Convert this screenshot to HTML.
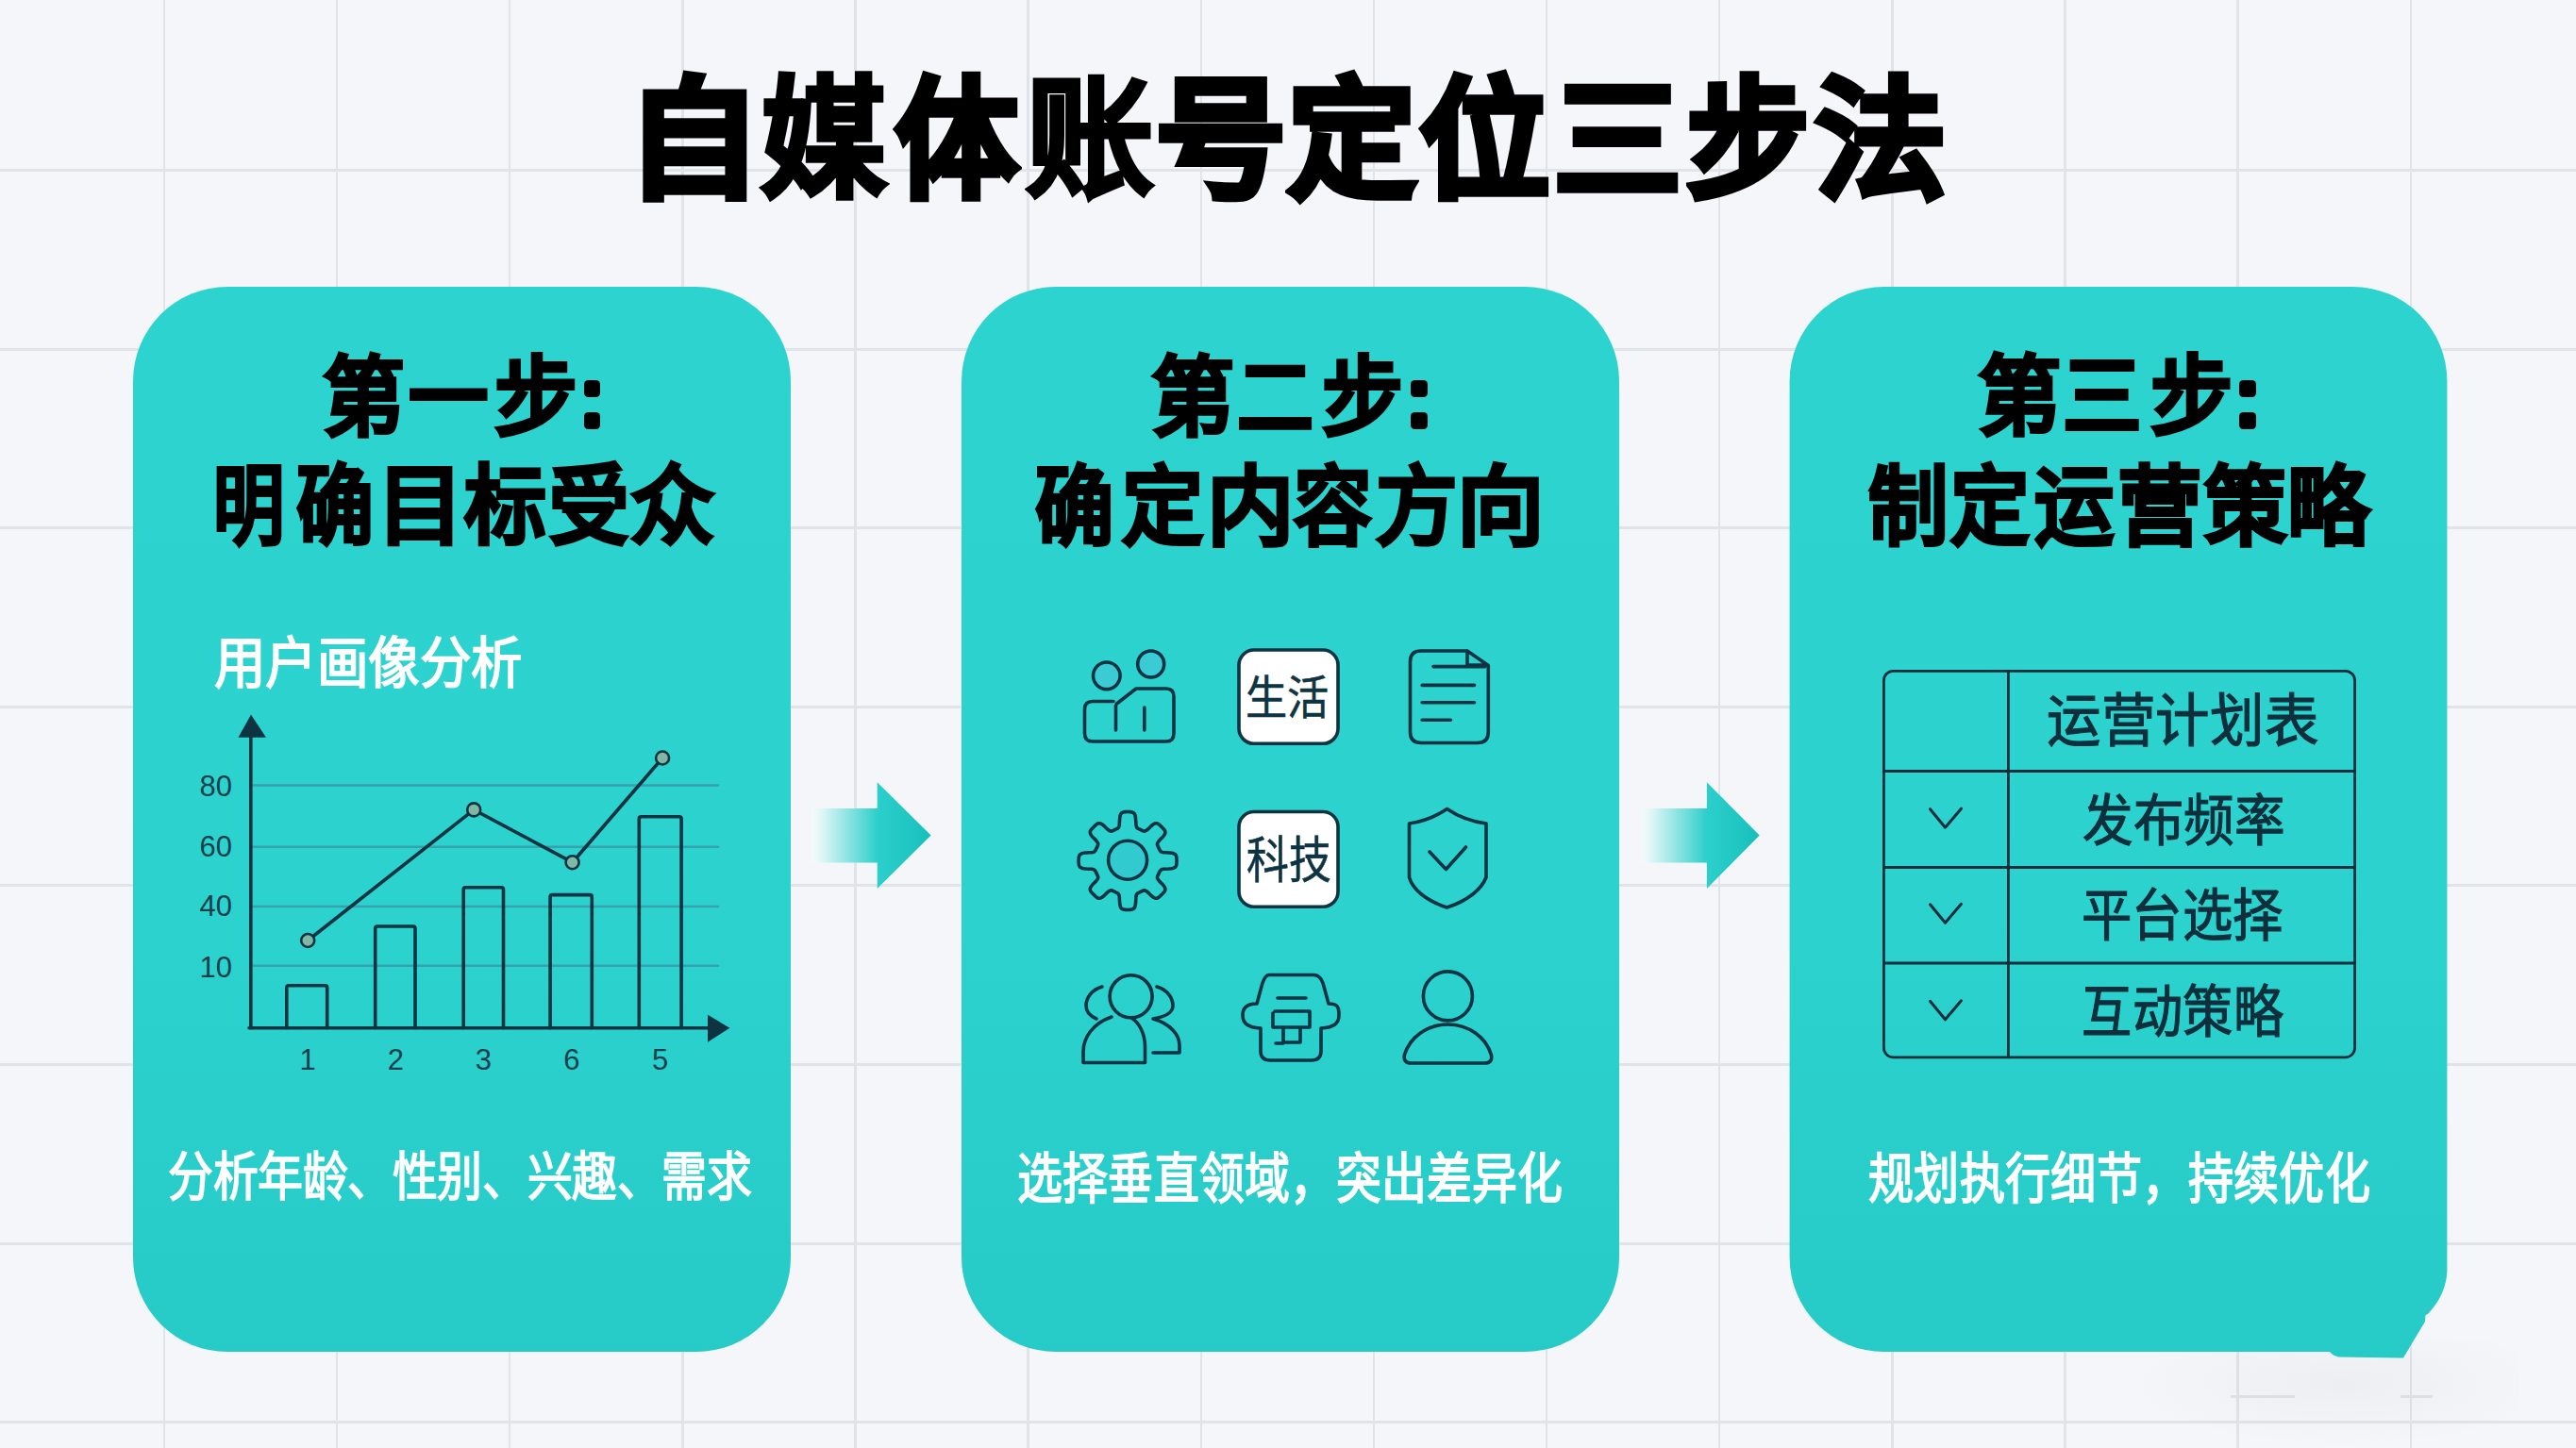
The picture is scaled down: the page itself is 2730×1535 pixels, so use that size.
<!DOCTYPE html><html lang="zh-CN"><head><meta charset="utf-8"><style>html,body{margin:0;padding:0;}body{width:2730px;height:1535px;position:relative;overflow:hidden;background:#f4f6f9;font-family:'Liberation Sans',sans-serif;}div{box-sizing:border-box}</style></head><body>
<div style="position:absolute;left:-10.6px;top:0;width:2.5px;height:1535px;background:#e0e3e7"></div>
<div style="position:absolute;left:172.6px;top:0;width:2.5px;height:1535px;background:#e0e3e7"></div>
<div style="position:absolute;left:355.7px;top:0;width:2.5px;height:1535px;background:#e0e3e7"></div>
<div style="position:absolute;left:538.9px;top:0;width:2.5px;height:1535px;background:#e0e3e7"></div>
<div style="position:absolute;left:722.0px;top:0;width:2.5px;height:1535px;background:#e0e3e7"></div>
<div style="position:absolute;left:905.1px;top:0;width:2.5px;height:1535px;background:#e0e3e7"></div>
<div style="position:absolute;left:1088.3px;top:0;width:2.5px;height:1535px;background:#e0e3e7"></div>
<div style="position:absolute;left:1271.5px;top:0;width:2.5px;height:1535px;background:#e0e3e7"></div>
<div style="position:absolute;left:1454.6px;top:0;width:2.5px;height:1535px;background:#e0e3e7"></div>
<div style="position:absolute;left:1637.8px;top:0;width:2.5px;height:1535px;background:#e0e3e7"></div>
<div style="position:absolute;left:1820.9px;top:0;width:2.5px;height:1535px;background:#e0e3e7"></div>
<div style="position:absolute;left:2004.1px;top:0;width:2.5px;height:1535px;background:#e0e3e7"></div>
<div style="position:absolute;left:2187.2px;top:0;width:2.5px;height:1535px;background:#e0e3e7"></div>
<div style="position:absolute;left:2370.4px;top:0;width:2.5px;height:1535px;background:#e0e3e7"></div>
<div style="position:absolute;left:2553.5px;top:0;width:2.5px;height:1535px;background:#e0e3e7"></div>
<div style="position:absolute;left:2736.7px;top:0;width:2.5px;height:1535px;background:#e0e3e7"></div>
<div style="position:absolute;left:0;top:-10.6px;width:2730px;height:3px;background:#e0e3e7"></div>
<div style="position:absolute;left:0;top:179.0px;width:2730px;height:3px;background:#e0e3e7"></div>
<div style="position:absolute;left:0;top:368.6px;width:2730px;height:3px;background:#e0e3e7"></div>
<div style="position:absolute;left:0;top:558.2px;width:2730px;height:3px;background:#e0e3e7"></div>
<div style="position:absolute;left:0;top:747.8px;width:2730px;height:3px;background:#e0e3e7"></div>
<div style="position:absolute;left:0;top:937.4px;width:2730px;height:3px;background:#e0e3e7"></div>
<div style="position:absolute;left:0;top:1127.0px;width:2730px;height:3px;background:#e0e3e7"></div>
<div style="position:absolute;left:0;top:1316.6px;width:2730px;height:3px;background:#e0e3e7"></div>
<div style="position:absolute;left:0;top:1506.2px;width:2730px;height:3px;background:#e0e3e7"></div>
<div style="position:absolute;left:0;top:1695.8px;width:2730px;height:3px;background:#e0e3e7"></div>
<div style="position:absolute;left:2364px;top:1478.5px;width:68px;height:3px;background:#e0e3e7"></div>
<div style="position:absolute;left:2544px;top:1478.5px;width:34px;height:3px;background:#e0e3e7"></div>
<div style="position:absolute;left:2250px;top:1420px;width:420px;height:115px;background:radial-gradient(ellipse at 55% 40%,rgba(60,70,80,0.045),rgba(60,70,80,0) 70%)"></div>
<div style="position:absolute;left:663.6px;top:80.3px;font-size:138.00px;line-height:1;font-weight:700;color:#000;-webkit-text-stroke:7px #000;white-space:nowrap;transform:scaleX(1.0323);transform-origin:0 0">自</div>
<div style="position:absolute;left:806.8px;top:79.3px;font-size:138.00px;line-height:1;font-weight:700;color:#000;-webkit-text-stroke:5px #000;white-space:nowrap;transform:scaleX(0.9561);transform-origin:0 0">媒</div>
<div style="position:absolute;left:949.0px;top:80.3px;font-size:138.00px;line-height:1;font-weight:700;color:#000;-webkit-text-stroke:7px #000;white-space:nowrap;transform:scaleX(0.9414);transform-origin:0 0">体</div>
<div style="position:absolute;left:1087.1px;top:78.5px;font-size:138.00px;line-height:1;font-weight:700;color:#000;-webkit-text-stroke:3.5px #000;white-space:nowrap;transform:scaleX(0.9860);transform-origin:0 0">账</div>
<div style="position:absolute;left:1224.5px;top:80.3px;font-size:138.00px;line-height:1;font-weight:700;color:#000;-webkit-text-stroke:7px #000;white-space:nowrap;transform:scaleX(0.9985);transform-origin:0 0">号</div>
<div style="position:absolute;left:1365.3px;top:80.3px;font-size:138.00px;line-height:1;font-weight:700;color:#000;-webkit-text-stroke:7px #000;white-space:nowrap;transform:scaleX(0.9808);transform-origin:0 0">定</div>
<div style="position:absolute;left:1505.0px;top:80.3px;font-size:138.00px;line-height:1;font-weight:700;color:#000;-webkit-text-stroke:7px #000;white-space:nowrap;transform:scaleX(0.9906);transform-origin:0 0">位</div>
<div style="position:absolute;left:1646.6px;top:80.3px;font-size:138.00px;line-height:1;font-weight:700;color:#000;-webkit-text-stroke:7px #000;white-space:nowrap;transform:scaleX(0.9756);transform-origin:0 0">三</div>
<div style="position:absolute;left:1787.5px;top:80.3px;font-size:138.00px;line-height:1;font-weight:700;color:#000;-webkit-text-stroke:7px #000;white-space:nowrap;transform:scaleX(0.9346);transform-origin:0 0">步</div>
<div style="position:absolute;left:1924.2px;top:80.3px;font-size:138.00px;line-height:1;font-weight:700;color:#000;-webkit-text-stroke:7px #000;white-space:nowrap;transform:scaleX(1.0006);transform-origin:0 0">法</div>
<div style="position:absolute;left:141.4px;top:304px;width:696.6px;height:1129px;border-radius:100px;background:linear-gradient(180deg,#2dd3cf 0%,#2cd2ce 60%,#26cbc8 100%)"></div>
<div style="position:absolute;left:1018.6px;top:304px;width:697.1px;height:1129px;border-radius:100px;background:linear-gradient(180deg,#2dd3cf 0%,#2cd2ce 60%,#26cbc8 100%)"></div>
<svg style="position:absolute;left:0;top:0" width="2730" height="1535"><defs><linearGradient id="cg" x1="0" y1="0" x2="0" y2="1"><stop offset="0" stop-color="#2dd3cf"/><stop offset="0.6" stop-color="#2cd2ce"/><stop offset="1" stop-color="#26cbc8"/></linearGradient></defs><path fill="url(#cg)" d="M1996.6,304 H2493.4 A100,100 0 0 1 2593.4,404 V1348 C2592.6,1360 2589,1376 2573,1393 L2570.5,1394 L2570,1401 L2547,1439.5 L2478,1438.5 Q2472,1437 2469,1433 H1996.6 A100,100 0 0 1 1896.6,1333 V404 A100,100 0 0 1 1996.6,304 Z"/></svg>
<div style="position:absolute;left:342.3px;top:376.6px;font-size:91.80px;line-height:1;font-weight:700;color:#000;-webkit-text-stroke:3px #000;white-space:nowrap;transform:scaleX(0.9463);transform-origin:0 0">第</div>
<div style="position:absolute;left:433.0px;top:376.6px;font-size:91.80px;line-height:1;font-weight:700;color:#000;-webkit-text-stroke:3px #000;white-space:nowrap;transform:scaleX(0.9167);transform-origin:0 0">一</div>
<div style="position:absolute;left:523.8px;top:376.6px;font-size:91.80px;line-height:1;font-weight:700;color:#000;-webkit-text-stroke:3px #000;white-space:nowrap;transform:scaleX(0.9582);transform-origin:0 0">步</div>
<div style="position:absolute;left:619.3px;top:402.5px;width:16.3px;height:18.0px;border-radius:4.5px;background:#000"></div>
<div style="position:absolute;left:619.3px;top:437px;width:16.3px;height:18px;border-radius:4.5px;background:#000"></div>
<div style="position:absolute;left:225.8px;top:492.2px;font-size:91.80px;line-height:1;font-weight:700;color:#000;-webkit-text-stroke:3px #000;white-space:nowrap;transform:scaleX(0.8200);transform-origin:0 0">明</div>
<div style="position:absolute;left:313.8px;top:492.2px;font-size:91.80px;line-height:1;font-weight:700;color:#000;-webkit-text-stroke:3px #000;white-space:nowrap;transform:scaleX(0.8930);transform-origin:0 0">确</div>
<div style="position:absolute;left:399.4px;top:492.2px;font-size:91.80px;line-height:1;font-weight:700;color:#000;-webkit-text-stroke:3px #000;white-space:nowrap;transform:scaleX(1.0077);transform-origin:0 0">目</div>
<div style="position:absolute;left:491.8px;top:492.2px;font-size:91.80px;line-height:1;font-weight:700;color:#000;-webkit-text-stroke:3px #000;white-space:nowrap;transform:scaleX(0.9459);transform-origin:0 0">标</div>
<div style="position:absolute;left:581.7px;top:492.2px;font-size:91.80px;line-height:1;font-weight:700;color:#000;-webkit-text-stroke:3px #000;white-space:nowrap;transform:scaleX(0.9207);transform-origin:0 0">受</div>
<div style="position:absolute;left:667.9px;top:492.2px;font-size:91.80px;line-height:1;font-weight:700;color:#000;-webkit-text-stroke:3px #000;white-space:nowrap;transform:scaleX(0.9712);transform-origin:0 0">众</div>
<div style="position:absolute;left:1219.7px;top:376.5px;font-size:91.80px;line-height:1;font-weight:700;color:#000;-webkit-text-stroke:3px #000;white-space:nowrap;transform:scaleX(0.9587);transform-origin:0 0">第</div>
<div style="position:absolute;left:1311.0px;top:376.5px;font-size:91.80px;line-height:1;font-weight:700;color:#000;-webkit-text-stroke:3px #000;white-space:nowrap;transform:scaleX(0.8816);transform-origin:0 0">二</div>
<div style="position:absolute;left:1401.0px;top:376.5px;font-size:91.80px;line-height:1;font-weight:700;color:#000;-webkit-text-stroke:3px #000;white-space:nowrap;transform:scaleX(0.9365);transform-origin:0 0">步</div>
<div style="position:absolute;left:1495.1px;top:402.5px;width:18.3px;height:18.0px;border-radius:4.5px;background:#000"></div>
<div style="position:absolute;left:1495.1px;top:437px;width:18.3px;height:18px;border-radius:4.5px;background:#000"></div>
<div style="position:absolute;left:1097.4px;top:492.7px;font-size:91.80px;line-height:1;font-weight:700;color:#000;-webkit-text-stroke:3px #000;white-space:nowrap;transform:scaleX(0.9090);transform-origin:0 0">确</div>
<div style="position:absolute;left:1189.1px;top:492.7px;font-size:91.80px;line-height:1;font-weight:700;color:#000;-webkit-text-stroke:3px #000;white-space:nowrap;transform:scaleX(0.9393);transform-origin:0 0">定</div>
<div style="position:absolute;left:1278.9px;top:492.7px;font-size:91.80px;line-height:1;font-weight:700;color:#000;-webkit-text-stroke:3px #000;white-space:nowrap;transform:scaleX(1.0073);transform-origin:0 0">内</div>
<div style="position:absolute;left:1370.9px;top:492.7px;font-size:91.80px;line-height:1;font-weight:700;color:#000;-webkit-text-stroke:3px #000;white-space:nowrap;transform:scaleX(0.9028);transform-origin:0 0">容</div>
<div style="position:absolute;left:1458.1px;top:492.7px;font-size:91.80px;line-height:1;font-weight:700;color:#000;-webkit-text-stroke:3px #000;white-space:nowrap;transform:scaleX(0.9415);transform-origin:0 0">方</div>
<div style="position:absolute;left:1544.2px;top:492.7px;font-size:91.80px;line-height:1;font-weight:700;color:#000;-webkit-text-stroke:3px #000;white-space:nowrap;transform:scaleX(1.0073);transform-origin:0 0">向</div>
<div style="position:absolute;left:2096.4px;top:375.7px;font-size:91.80px;line-height:1;font-weight:700;color:#000;-webkit-text-stroke:3px #000;white-space:nowrap;transform:scaleX(0.9609);transform-origin:0 0">第</div>
<div style="position:absolute;left:2186.3px;top:375.7px;font-size:91.80px;line-height:1;font-weight:700;color:#000;-webkit-text-stroke:3px #000;white-space:nowrap;transform:scaleX(0.9098);transform-origin:0 0">三</div>
<div style="position:absolute;left:2279.0px;top:375.7px;font-size:91.80px;line-height:1;font-weight:700;color:#000;-webkit-text-stroke:3px #000;white-space:nowrap;transform:scaleX(0.9502);transform-origin:0 0">步</div>
<div style="position:absolute;left:2372.5px;top:402.5px;width:18.5px;height:18.0px;border-radius:4.5px;background:#000"></div>
<div style="position:absolute;left:2372.5px;top:437px;width:18.5px;height:18px;border-radius:4.5px;background:#000"></div>
<div style="position:absolute;left:1980.2px;top:493.3px;font-size:91.80px;line-height:1;font-weight:700;color:#000;-webkit-text-stroke:3px #000;white-space:nowrap;transform:scaleX(0.9205);transform-origin:0 0">制</div>
<div style="position:absolute;left:2067.3px;top:493.3px;font-size:91.80px;line-height:1;font-weight:700;color:#000;-webkit-text-stroke:3px #000;white-space:nowrap;transform:scaleX(0.9130);transform-origin:0 0">定</div>
<div style="position:absolute;left:2155.8px;top:493.3px;font-size:91.80px;line-height:1;font-weight:700;color:#000;-webkit-text-stroke:3px #000;white-space:nowrap;transform:scaleX(0.9180);transform-origin:0 0">运</div>
<div style="position:absolute;left:2244.2px;top:493.3px;font-size:91.80px;line-height:1;font-weight:700;color:#000;-webkit-text-stroke:3px #000;white-space:nowrap;transform:scaleX(0.9753);transform-origin:0 0">营</div>
<div style="position:absolute;left:2336.2px;top:493.3px;font-size:91.80px;line-height:1;font-weight:700;color:#000;-webkit-text-stroke:3px #000;white-space:nowrap;transform:scaleX(0.9509);transform-origin:0 0">策</div>
<div style="position:absolute;left:2424.2px;top:493.3px;font-size:91.80px;line-height:1;font-weight:700;color:#000;-webkit-text-stroke:3px #000;white-space:nowrap;transform:scaleX(0.9511);transform-origin:0 0">略</div>
<div style="position:absolute;left:178.3px;top:1221.0px;font-size:55.41px;letter-spacing:0px;line-height:1;font-weight:700;color:#fff;white-space:nowrap;transform:scaleX(0.8648);transform-origin:0 0;">分析年龄、性别、兴趣、需求</div>
<div style="position:absolute;left:1078.4px;top:1221.5px;font-size:57.70px;letter-spacing:0px;line-height:1;font-weight:700;color:#fff;white-space:nowrap;transform:scaleX(0.8315);transform-origin:0 0;">选择垂直领域，突出差异化</div>
<div style="position:absolute;left:1979.5px;top:1221.5px;font-size:57.70px;letter-spacing:0px;line-height:1;font-weight:700;color:#fff;white-space:nowrap;transform:scaleX(0.8338);transform-origin:0 0;">规划执行细节，持续优化</div>
<div style="position:absolute;left:226.6px;top:674.2px;font-size:59.18px;letter-spacing:0px;line-height:1;font-weight:700;color:#fff;white-space:nowrap;transform:scaleX(0.9219);transform-origin:0 0;">用户画像分析</div>
<svg style="position:absolute;left:0;top:0" width="2730" height="1535" fill="none" stroke="#0f3441" stroke-linecap="round" stroke-linejoin="round"><line x1="268" y1="832.5" x2="761" y2="832.5" stroke="#37a1ad" stroke-width="2.6"/><line x1="268" y1="897.8" x2="761" y2="897.8" stroke="#37a1ad" stroke-width="2.6"/><line x1="268" y1="961" x2="761" y2="961" stroke="#37a1ad" stroke-width="2.6"/><line x1="268" y1="1023.7" x2="761" y2="1023.7" stroke="#37a1ad" stroke-width="2.6"/><line x1="265.8" y1="775" x2="265.8" y2="1089.7" stroke-width="3.6"/><path d="M252.5,781.7 L266,757.6 L282,781.7 Z" fill="#0f3441" stroke="none"/><line x1="264" y1="1089.7" x2="755" y2="1089.7" stroke-width="3.6"/><path d="M750,1075.7 L773.4,1089.7 L750,1104.7 Z" fill="#0f3441" stroke="none"/><path d="M303.8,1089.7 V1047 Q303.8,1044.8 306,1044.8 H344.5 Q346.7,1044.8 346.7,1047 V1089.7" stroke-width="3.6"/><path d="M397.7,1089.7 V984.2 Q397.7,982.0 399.9,982.0 H437.8 Q440.0,982.0 440.0,984.2 V1089.7" stroke-width="3.6"/><path d="M491.2,1089.7 V942.9 Q491.2,940.6999999999999 493.4,940.6999999999999 H531.3 Q533.5,940.6999999999999 533.5,942.9 V1089.7" stroke-width="3.6"/><path d="M583.0999999999999,1089.7 V950.8 Q583.0999999999999,948.5999999999999 585.3,948.5999999999999 H625.1 Q627.3000000000001,948.5999999999999 627.3000000000001,950.8 V1089.7" stroke-width="3.6"/><path d="M677.3,1089.7 V867.9 Q677.3,865.6999999999999 679.5,865.6999999999999 H719.9 Q722.1,865.6999999999999 722.1,867.9 V1089.7" stroke-width="3.6"/><polyline points="326.2,997 502.2,858.4 606.6,914.2 702.1,803.5" stroke-width="3.6"/><circle cx="326.2" cy="997" r="7" fill="#7fb9a6" stroke-width="2.6"/><circle cx="502.2" cy="858.4" r="7" fill="#7fb9a6" stroke-width="2.6"/><circle cx="606.6" cy="914.2" r="7" fill="#7fb9a6" stroke-width="2.6"/><circle cx="702.1" cy="803.5" r="7" fill="#7fb9a6" stroke-width="2.6"/></svg>
<div style="position:absolute;left:190px;top:816.7px;width:56px;text-align:right;font-size:31px;line-height:34px;color:#17404c">80</div>
<div style="position:absolute;left:190px;top:881.0px;width:56px;text-align:right;font-size:31px;line-height:34px;color:#17404c">60</div>
<div style="position:absolute;left:190px;top:944.0px;width:56px;text-align:right;font-size:31px;line-height:34px;color:#17404c">40</div>
<div style="position:absolute;left:190px;top:1009.0px;width:56px;text-align:right;font-size:31px;line-height:34px;color:#17404c">10</div>
<div style="position:absolute;left:296.0px;top:1107.0px;width:60px;text-align:center;font-size:31px;line-height:34px;color:#17404c">1</div>
<div style="position:absolute;left:389.3px;top:1107.0px;width:60px;text-align:center;font-size:31px;line-height:34px;color:#17404c">2</div>
<div style="position:absolute;left:482.4px;top:1107.0px;width:60px;text-align:center;font-size:31px;line-height:34px;color:#17404c">3</div>
<div style="position:absolute;left:575.9px;top:1107.0px;width:60px;text-align:center;font-size:31px;line-height:34px;color:#17404c">6</div>
<div style="position:absolute;left:669.7px;top:1107.0px;width:60px;text-align:center;font-size:31px;line-height:34px;color:#17404c">5</div>
<svg style="position:absolute;left:0;top:0" width="2730" height="1535" fill="none" stroke="#0e3342" stroke-width="3.6" stroke-linecap="round" stroke-linejoin="round"><circle cx="1172.8" cy="716.3" r="14.3" fill="#4cc3dc" fill-opacity="0.45"/><circle cx="1219.7" cy="704" r="14" fill="#4cc3dc" fill-opacity="0.45"/><path d="M1180,743.5 H1158 Q1149.5,743.5 1149.5,752 V777.5 Q1149.5,786 1158,786 H1236 Q1244,786 1244,777.5 V738.5 Q1244,730 1236,730 H1204 L1183.5,746"/><line x1="1182.5" y1="748" x2="1182.5" y2="774"/><line x1="1212.8" y1="750" x2="1212.8" y2="774"/><path d="M1555,690 H1506 Q1494.5,690 1494.5,701.5 V776 Q1494.5,787.5 1506,787.5 H1566 Q1577.3,787.5 1577.3,776 V705.5 L1555,690 V705 H1577"/><line x1="1519" y1="706.6" x2="1574" y2="706.6"/><line x1="1507.2" y1="726.4" x2="1562.5" y2="726.4"/><line x1="1507.2" y1="744.8" x2="1562.5" y2="744.8"/><line x1="1507.2" y1="763.3" x2="1537.3" y2="763.3"/><rect x="1313" y="689" width="105" height="99.3" rx="16" fill="#fff"/><rect x="1313" y="860.5" width="105" height="100.7" rx="16" fill="#fff"/><path d="M1247.1,912.5 L1247.1,913.4 L1247.0,914.3 L1247.0,915.2 L1246.9,916.1 L1246.7,917.0 L1246.4,917.9 L1245.9,918.7 L1245.2,919.5 L1243.8,920.2 L1241.8,920.7 L1239.0,921.0 L1235.9,921.2 L1233.4,921.3 L1231.7,921.6 L1230.7,922.0 L1230.0,922.5 L1229.6,923.0 L1229.2,923.6 L1228.9,924.2 L1228.7,924.7 L1228.4,925.3 L1228.1,925.8 L1227.9,926.4 L1227.6,927.0 L1227.3,927.5 L1227.1,928.1 L1226.8,928.7 L1226.6,929.3 L1226.5,929.9 L1226.5,930.7 L1226.9,931.6 L1227.7,932.9 L1229.1,934.6 L1232.1,937.5 L1233.7,939.5 L1234.6,941.2 L1234.9,942.5 L1234.8,943.5 L1234.5,944.4 L1234.0,945.2 L1233.5,945.9 L1232.9,946.5 L1232.3,947.2 L1231.7,947.8 L1231.0,948.4 L1230.4,949.1 L1229.8,949.7 L1229.1,950.3 L1228.5,950.9 L1227.8,951.4 L1227.0,951.9 L1226.1,952.2 L1225.1,952.3 L1223.8,952.0 L1222.1,951.1 L1220.1,949.5 L1217.2,946.5 L1215.5,945.1 L1214.2,944.3 L1213.3,943.9 L1212.5,943.9 L1211.9,944.0 L1211.3,944.2 L1210.7,944.5 L1210.1,944.7 L1209.6,945.0 L1209.0,945.3 L1208.4,945.5 L1207.9,945.8 L1207.3,946.1 L1206.8,946.3 L1206.2,946.6 L1205.6,947.0 L1205.1,947.4 L1204.6,948.1 L1204.2,949.1 L1203.9,950.8 L1203.8,953.3 L1203.6,956.4 L1203.3,959.2 L1202.8,961.2 L1202.1,962.6 L1201.3,963.3 L1200.5,963.8 L1199.6,964.1 L1198.7,964.3 L1197.8,964.4 L1196.9,964.4 L1196.0,964.5 L1195.1,964.5 L1194.2,964.5 L1193.3,964.4 L1192.4,964.4 L1191.5,964.3 L1190.6,964.1 L1189.7,963.8 L1188.9,963.3 L1188.1,962.6 L1187.4,961.2 L1186.9,959.2 L1186.6,956.4 L1186.4,953.3 L1186.3,950.8 L1186.0,949.1 L1185.6,948.1 L1185.1,947.4 L1184.6,947.0 L1184.0,946.6 L1183.4,946.3 L1182.9,946.1 L1182.3,945.8 L1181.8,945.5 L1181.2,945.3 L1180.6,945.0 L1180.1,944.7 L1179.5,944.5 L1178.9,944.2 L1178.3,944.0 L1177.7,943.9 L1176.9,943.9 L1176.0,944.3 L1174.7,945.1 L1173.0,946.5 L1170.1,949.5 L1168.1,951.1 L1166.4,952.0 L1165.1,952.3 L1164.1,952.2 L1163.2,951.9 L1162.4,951.4 L1161.7,950.9 L1161.1,950.3 L1160.4,949.7 L1159.8,949.1 L1159.2,948.4 L1158.5,947.8 L1157.9,947.2 L1157.3,946.5 L1156.7,945.9 L1156.2,945.2 L1155.7,944.4 L1155.4,943.5 L1155.3,942.5 L1155.6,941.2 L1156.5,939.5 L1158.1,937.5 L1161.1,934.6 L1162.5,932.9 L1163.3,931.6 L1163.7,930.7 L1163.7,929.9 L1163.6,929.3 L1163.4,928.7 L1163.1,928.1 L1162.9,927.5 L1162.6,927.0 L1162.3,926.4 L1162.1,925.8 L1161.8,925.3 L1161.5,924.7 L1161.3,924.2 L1161.0,923.6 L1160.6,923.0 L1160.2,922.5 L1159.5,922.0 L1158.5,921.6 L1156.8,921.3 L1154.3,921.2 L1151.2,921.0 L1148.4,920.7 L1146.4,920.2 L1145.0,919.5 L1144.3,918.7 L1143.8,917.9 L1143.5,917.0 L1143.3,916.1 L1143.2,915.2 L1143.2,914.3 L1143.1,913.4 L1143.1,912.5 L1143.1,911.6 L1143.2,910.7 L1143.2,909.8 L1143.3,908.9 L1143.5,908.0 L1143.8,907.1 L1144.3,906.3 L1145.0,905.5 L1146.4,904.8 L1148.4,904.3 L1151.2,904.0 L1154.3,903.8 L1156.8,903.7 L1158.5,903.4 L1159.5,903.0 L1160.2,902.5 L1160.6,902.0 L1161.0,901.4 L1161.3,900.8 L1161.5,900.3 L1161.8,899.7 L1162.1,899.2 L1162.3,898.6 L1162.6,898.0 L1162.9,897.5 L1163.1,896.9 L1163.4,896.3 L1163.6,895.7 L1163.7,895.1 L1163.7,894.3 L1163.3,893.4 L1162.5,892.1 L1161.1,890.4 L1158.1,887.5 L1156.5,885.5 L1155.6,883.8 L1155.3,882.5 L1155.4,881.5 L1155.7,880.6 L1156.2,879.8 L1156.7,879.1 L1157.3,878.5 L1157.9,877.8 L1158.5,877.2 L1159.2,876.6 L1159.8,875.9 L1160.4,875.3 L1161.1,874.7 L1161.7,874.1 L1162.4,873.6 L1163.2,873.1 L1164.1,872.8 L1165.1,872.7 L1166.4,873.0 L1168.1,873.9 L1170.1,875.5 L1173.0,878.5 L1174.7,879.9 L1176.0,880.7 L1176.9,881.1 L1177.7,881.1 L1178.3,881.0 L1178.9,880.8 L1179.5,880.5 L1180.1,880.3 L1180.6,880.0 L1181.2,879.7 L1181.8,879.5 L1182.3,879.2 L1182.9,878.9 L1183.4,878.7 L1184.0,878.4 L1184.6,878.0 L1185.1,877.6 L1185.6,876.9 L1186.0,875.9 L1186.3,874.2 L1186.4,871.7 L1186.6,868.6 L1186.9,865.8 L1187.4,863.8 L1188.1,862.4 L1188.9,861.7 L1189.7,861.2 L1190.6,860.9 L1191.5,860.7 L1192.4,860.6 L1193.3,860.6 L1194.2,860.5 L1195.1,860.5 L1196.0,860.5 L1196.9,860.6 L1197.8,860.6 L1198.7,860.7 L1199.6,860.9 L1200.5,861.2 L1201.3,861.7 L1202.1,862.4 L1202.8,863.8 L1203.3,865.8 L1203.6,868.6 L1203.8,871.7 L1203.9,874.2 L1204.2,875.9 L1204.6,876.9 L1205.1,877.6 L1205.6,878.0 L1206.2,878.4 L1206.8,878.7 L1207.3,878.9 L1207.9,879.2 L1208.4,879.5 L1209.0,879.7 L1209.6,880.0 L1210.1,880.3 L1210.7,880.5 L1211.3,880.8 L1211.9,881.0 L1212.5,881.1 L1213.3,881.1 L1214.2,880.7 L1215.5,879.9 L1217.2,878.5 L1220.1,875.5 L1222.1,873.9 L1223.8,873.0 L1225.1,872.7 L1226.1,872.8 L1227.0,873.1 L1227.8,873.6 L1228.5,874.1 L1229.1,874.7 L1229.8,875.3 L1230.4,875.9 L1231.0,876.6 L1231.7,877.2 L1232.3,877.8 L1232.9,878.5 L1233.5,879.1 L1234.0,879.8 L1234.5,880.6 L1234.8,881.5 L1234.9,882.5 L1234.6,883.8 L1233.7,885.5 L1232.1,887.5 L1229.1,890.4 L1227.7,892.1 L1226.9,893.4 L1226.5,894.3 L1226.5,895.1 L1226.6,895.7 L1226.8,896.3 L1227.1,896.9 L1227.3,897.5 L1227.6,898.0 L1227.9,898.6 L1228.1,899.2 L1228.4,899.7 L1228.7,900.3 L1228.9,900.8 L1229.2,901.4 L1229.6,902.0 L1230.0,902.5 L1230.7,903.0 L1231.7,903.4 L1233.4,903.7 L1235.9,903.8 L1239.0,904.0 L1241.8,904.3 L1243.8,904.8 L1245.2,905.5 L1245.9,906.3 L1246.4,907.1 L1246.7,908.0 L1246.9,908.9 L1247.0,909.8 L1247.0,910.7 L1247.1,911.6 Z"/><circle cx="1195.1" cy="911.8" r="20.5" fill="#3dbfd0" fill-opacity="0.35"/><path d="M1533.5,857.5 C1521,866 1508,871 1493.5,873 V930 C1497,943 1512,955 1533.5,962 C1555,955 1570,943 1575,930 V873 C1560,871 1546,866 1533.5,857.5 Z"/><path d="M1515,903 L1532.5,921.5 L1553.5,898"/><circle cx="1198.6" cy="1056.3" r="22.5"/><path d="M1178,1078 C1158,1085 1148,1100 1148,1115 V1126.5 H1213.5 V1110 C1213.5,1095 1207,1084 1199,1079"/><path d="M1168,1046 C1157,1049 1151,1058 1151,1066 C1151,1072 1155,1077 1162,1080"/><path d="M1226,1046 C1237,1049 1243,1058 1243,1066 C1243,1072 1239,1077 1222,1080 C1240,1085 1250,1097 1250,1108 V1116 H1222"/><path d="M1345,1033.5 H1392 Q1399,1033.5 1402,1042 L1408,1064 C1418,1064 1419,1068 1419,1076 C1419,1085 1414,1089 1400,1090 V1114 Q1400,1124 1390,1124 H1346 Q1336,1124 1336,1114 V1090 C1322,1089 1317,1085 1317,1076 C1317,1068 1322,1064 1332,1064 L1338,1042 Q1341,1033.5 1345,1033.5 Z"/><path d="M1354,1058 H1384 M1351,1072 H1388 V1089 H1349 V1074 M1360,1089 V1105 H1378 V1089 M1352,1106 H1360"/><circle cx="1534.4" cy="1055.9" r="26"/><path d="M1534.4,1086 C1512,1086 1494,1100 1488.5,1118 Q1486.5,1127 1496,1127 H1573 Q1582.5,1127 1580.3,1118 C1575,1100 1557,1086 1534.4,1086 Z"/></svg>
<div style="position:absolute;left:1320.4px;top:716.1px;font-size:48.91px;letter-spacing:0px;line-height:1;font-weight:400;color:#0e3342;-webkit-text-stroke:0.6px #0e3342;white-space:nowrap;transform:scaleX(0.9034);transform-origin:0 0;">生活</div>
<div style="position:absolute;left:1320.8px;top:886.1px;font-size:53.15px;letter-spacing:0px;line-height:1;font-weight:400;color:#0e3342;-webkit-text-stroke:0.6px #0e3342;white-space:nowrap;transform:scaleX(0.8461);transform-origin:0 0;">科技</div>
<svg style="position:absolute;left:0;top:0" width="2730" height="1535" fill="none" stroke="#0e2f3b" stroke-width="2.8" stroke-linecap="round" stroke-linejoin="round"><rect x="1996.4" y="711.4" width="499.2" height="409.4" rx="10"/><line x1="2128.4" y1="711.4" x2="2128.4" y2="1120.8"/><line x1="1996.4" y1="817.5" x2="2495.6" y2="817.5"/><line x1="1996.4" y1="919.5" x2="2495.6" y2="919.5"/><line x1="1996.4" y1="1021" x2="2495.6" y2="1021"/><path d="M2045.5,857.7 L2061.5,877.2 L2078.5,857.2" stroke-width="3"/><path d="M2045.5,958.8 L2061.5,978.3 L2078.5,958.3" stroke-width="3"/><path d="M2045.5,1061.3 L2061.5,1080.8 L2078.5,1060.8" stroke-width="3"/></svg>
<div style="position:absolute;left:2169.0px;top:733.8px;font-size:61.83px;letter-spacing:0px;line-height:1;font-weight:400;color:#0e2f3b;-webkit-text-stroke:1.2px #0e2f3b;white-space:nowrap;transform:scaleX(0.9296);transform-origin:0 0;">运营计划表</div>
<div style="position:absolute;left:2206.9px;top:842.2px;font-size:58.94px;letter-spacing:0px;line-height:1;font-weight:400;color:#0e2f3b;-webkit-text-stroke:1.2px #0e2f3b;white-space:nowrap;transform:scaleX(0.9103);transform-origin:0 0;">发布频率</div>
<div style="position:absolute;left:2205.9px;top:942.2px;font-size:60.11px;letter-spacing:0px;line-height:1;font-weight:400;color:#0e2f3b;-webkit-text-stroke:1.2px #0e2f3b;white-space:nowrap;transform:scaleX(0.8880);transform-origin:0 0;">平台选择</div>
<div style="position:absolute;left:2205.9px;top:1042.6px;font-size:60.65px;letter-spacing:0px;line-height:1;font-weight:400;color:#0e2f3b;-webkit-text-stroke:1.2px #0e2f3b;white-space:nowrap;transform:scaleX(0.8779);transform-origin:0 0;">互动策略</div>
<svg style="position:absolute;left:0;top:0" width="2730" height="1535"><defs><linearGradient id="ag0" gradientUnits="userSpaceOnUse" x1="860" y1="0" x2="986.6" y2="0"><stop offset="0" stop-color="#f6fdfd" stop-opacity="0.6"/><stop offset="0.15" stop-color="#c4f0f0" stop-opacity="0.95"/><stop offset="0.55" stop-color="#2ccfcb"/><stop offset="1" stop-color="#17c0bd"/></linearGradient><linearGradient id="ag1" gradientUnits="userSpaceOnUse" x1="1739.3" y1="0" x2="1864.7" y2="0"><stop offset="0" stop-color="#f6fdfd" stop-opacity="0.6"/><stop offset="0.15" stop-color="#c4f0f0" stop-opacity="0.95"/><stop offset="0.55" stop-color="#2ccfcb"/><stop offset="1" stop-color="#17c0bd"/></linearGradient></defs><path d="M860,856.9 H929.7 V829.3 L986.6,885.6 L929.7,942 V914.4 H860 Z" fill="url(#ag0)"/><path d="M1739.3,856.9 H1808.9 V829.3 L1864.7,885.6 L1808.9,942 V914.4 H1739.3 Z" fill="url(#ag1)"/></svg>
</body></html>
